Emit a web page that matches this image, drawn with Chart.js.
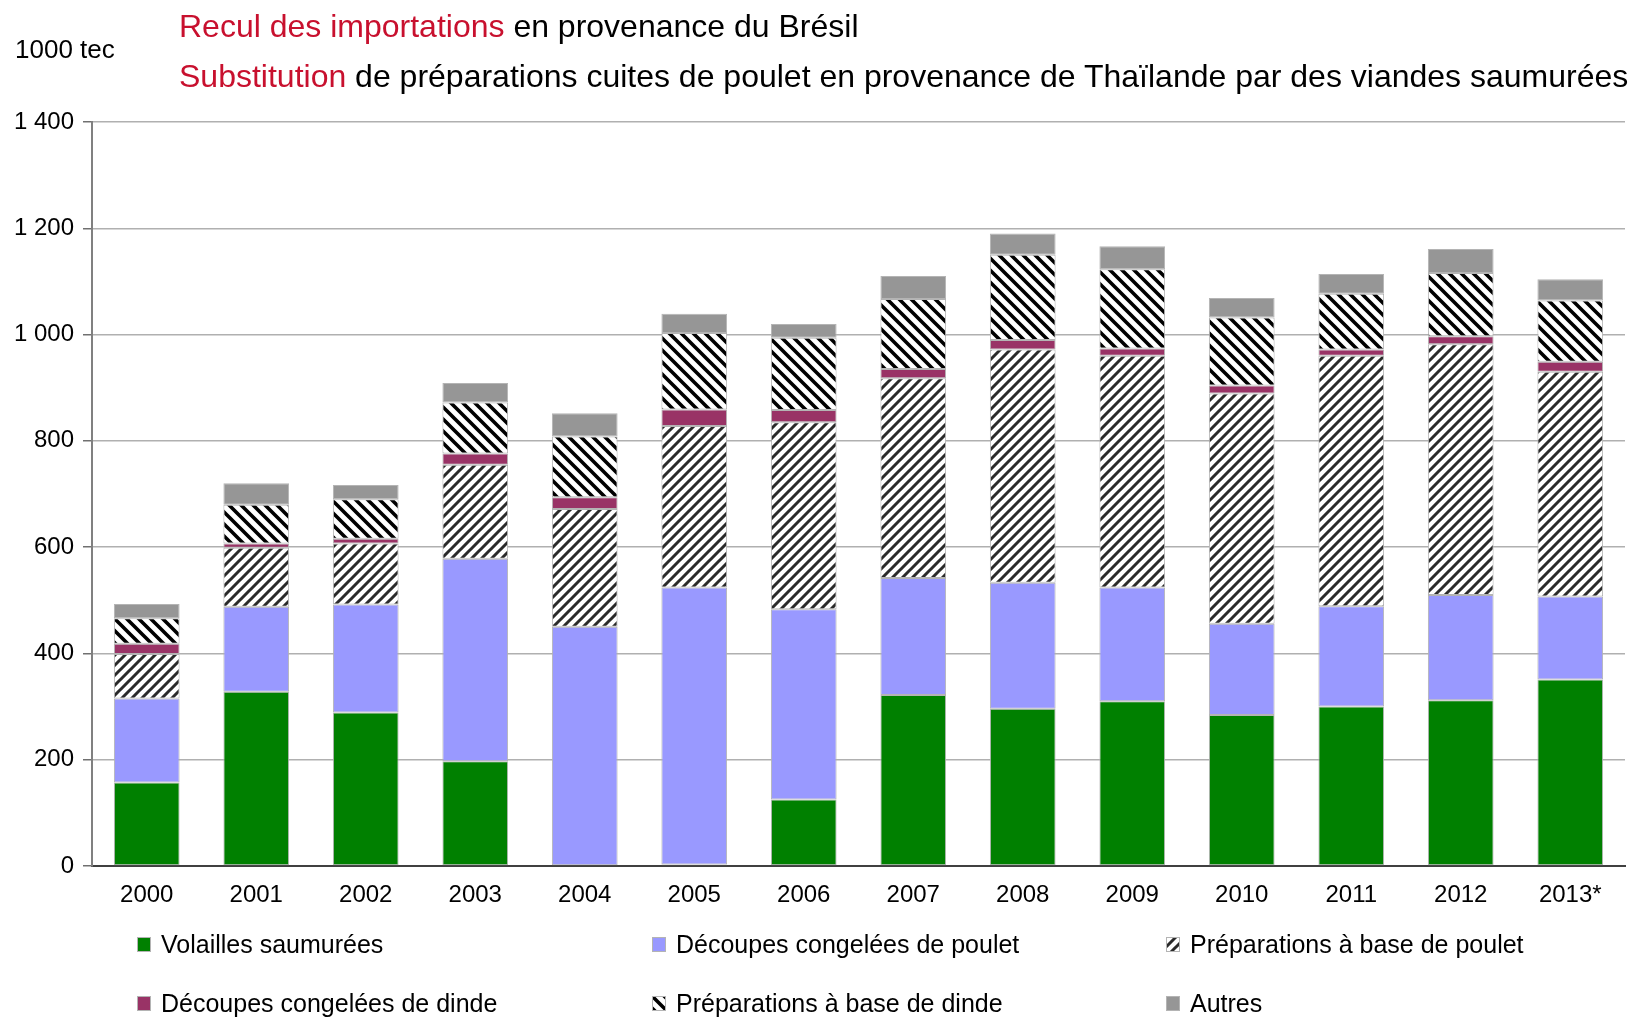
<!DOCTYPE html>
<html>
<head>
<meta charset="utf-8">
<script src="https://cdn.jsdelivr.net/npm/chart.js@4"></script>
<style>
  body { margin: 0; background: #fff; font-family: "Liberation Sans", Arial, sans-serif; }
  #wrap { position: relative; width: 1630px; height: 1019px; overflow: hidden; }
  canvas#chart { position: absolute; left: 0; top: 0; }
  .title { position: absolute; left: 179px; font-size: 32px; white-space: nowrap; color: #000; line-height: 1; }
  .title .red { color: #c8102e; }
  #unit { position: absolute; left: 15px; top: 36px; font-size: 26px; line-height: 1; }
  .leg { position: absolute; font-size: 25px; line-height: 1; white-space: nowrap; display: flex; align-items: center; }
  .leg canvas { margin-right: 10px; }
</style>
</head>
<body>
<div id="wrap">
  <canvas id="chart" width="1630" height="1019"></canvas>
  <div class="title" style="top:10px"><span class="red">Recul des importations</span> en provenance du Brésil</div>
  <div class="title" style="top:60px"><span class="red">Substitution</span> de préparations cuites de poulet en provenance de Thaïlande par des viandes saumurées</div>
  <div id="unit">1000 tec</div>
  <div id="legend"></div>
</div>
<script>
// Data (1000 tec)
const years = ['2000', '2001', '2002', '2003', '2004', '2005', '2006', '2007', '2008', '2009', '2010', '2011', '2012', '2013*'];
const volaillesSaumurees = [157, 328, 289, 197, 0, 3, 125, 322, 296, 310, 284, 300, 312, 351];
const decoupesPoulet = [158, 160, 203, 381, 450, 521, 358, 220, 237, 214, 172, 189, 198, 156];
const prepPoulet = [84, 111, 115, 177, 222, 304, 352, 376, 439, 436, 433, 471, 472, 423];
const decoupesDinde = [19, 8, 9, 21, 22, 31, 23, 17, 18, 14, 15, 12, 15, 19];
const prepDinde = [48, 73, 74, 96, 114, 144, 136, 132, 160, 149, 128, 105, 119, 115];
const autres = [27, 40, 27, 37, 44, 36, 26, 43, 40, 43, 37, 37, 45, 40];
const yTickLabels = ['0', '200', '400', '600', '800', '1 000', '1 200', '1 400'];

function makeHatch(dir, color, lw, size) {
  const c = document.createElement('canvas');
  c.width = size; c.height = size;
  const g = c.getContext('2d');
  g.fillStyle = '#fff';
  g.fillRect(0, 0, size, size);
  g.strokeStyle = color;
  g.lineWidth = lw;
  g.beginPath();
  if (dir === '/') {
    g.moveTo(0, size); g.lineTo(size, 0);
    g.moveTo(-size / 2, size / 2); g.lineTo(size / 2, -size / 2);
    g.moveTo(size / 2, size * 1.5); g.lineTo(size * 1.5, size / 2);
  } else {
    g.moveTo(0, 0); g.lineTo(size, size);
    g.moveTo(size / 2, -size / 2); g.lineTo(size * 1.5, size / 2);
    g.moveTo(-size / 2, size / 2); g.lineTo(size / 2, size * 1.5);
  }
  g.stroke();
  return c;
}

const ctx = document.getElementById('chart').getContext('2d');
const hatchPoulet = ctx.createPattern(makeHatch('/', '#2a2a2a', 3, 10), 'repeat');
const hatchDinde = ctx.createPattern(makeHatch('\\', '#000', 3.6, 12), 'repeat');

const series = [
  { label: 'Volailles saumurées', data: volaillesSaumurees, bg: '#008000' },
  { label: 'Découpes congelées de poulet', data: decoupesPoulet, bg: '#9999ff' },
  { label: 'Préparations à base de poulet', data: prepPoulet, bg: hatchPoulet },
  { label: 'Découpes congelées de dinde', data: decoupesDinde, bg: '#993366' },
  { label: 'Préparations à base de dinde', data: prepDinde, bg: hatchDinde },
  { label: 'Autres', data: autres, bg: '#969696' }
];

new Chart(ctx, {
  type: 'bar',
  data: {
    labels: years,
    datasets: series.map(s => ({
      label: s.label,
      data: s.data,
      backgroundColor: s.bg,
      borderColor: '#b4b4b4',
      borderWidth: 1,
      borderSkipped: false,
      categoryPercentage: 1,
      barPercentage: 0.6
    }))
  },
  options: {
    responsive: false,
    animation: false,
    layout: { padding: { top: 122, right: 5, bottom: 103, left: 0 } },
    plugins: { legend: { display: false }, tooltip: { enabled: false } },
    scales: {
      x: {
        stacked: true,
        afterFit: scale => { scale.height = 50; },
        grid: { display: false, drawTicks: false },
        border: { color: '#404040', width: 2 },
        ticks: { color: '#000', font: { family: 'Liberation Sans', size: 24 }, padding: 15 }
      },
      y: {
        stacked: true,
        min: 0,
        max: 1400,
        afterFit: scale => { scale.width = 92; },
        afterBuildTicks: scale => { scale.ticks = yTickLabels.map((t, i) => ({ value: i * 200 })); },
        grid: { color: '#b0b0b0', lineWidth: 1.5, tickLength: 9, tickColor: '#707070' },
        border: { color: '#808080', width: 2 },
        ticks: {
          color: '#000',
          font: { family: 'Liberation Sans', size: 24 },
          padding: 9,
          callback: (v, i) => yTickLabels[i]
        }
      }
    }
  }
});

// HTML legend, 3 columns x 2 rows
const legend = document.getElementById('legend');
const colX = [137, 652, 1166];
const rowY = [932, 991];
series.forEach((s, i) => {
  const item = document.createElement('div');
  item.className = 'leg';
  item.style.left = colX[i % 3] + 'px';
  item.style.top = rowY[Math.floor(i / 3)] + 'px';
  const box = document.createElement('canvas');
  box.width = 14; box.height = 15;
  const b = box.getContext('2d');
  b.fillStyle = typeof s.bg === 'string' ? s.bg : b.createPattern(
    i === 2 ? makeHatch('/', '#2a2a2a', 3, 10) : makeHatch('\\', '#000', 3.6, 12), 'repeat');
  b.fillRect(0, 0, 14, 15);
  b.strokeStyle = '#b4b4b4';
  b.strokeRect(0.5, 0.5, 13, 14);
  item.appendChild(box);
  const txt = document.createElement('span');
  txt.textContent = s.label;
  item.appendChild(txt);
  legend.appendChild(item);
});
</script>
</body>
</html>
